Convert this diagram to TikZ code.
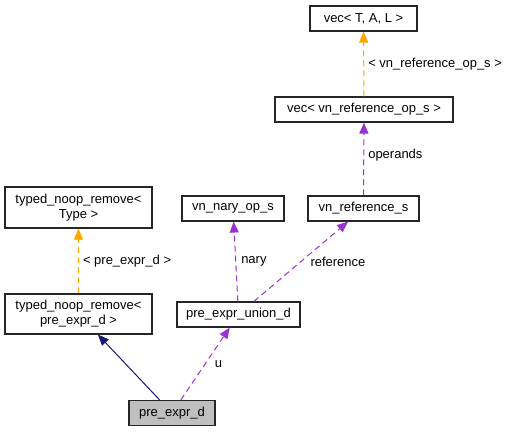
\documentclass[tikz,border=0pt]{standalone}
\usepackage{fontspec}
\setmainfont{Liberation Sans}
\usetikzlibrary{arrows.meta}
\definecolor{inhblue}{HTML}{191970}
\definecolor{usepurple}{HTML}{9A32CD}
\definecolor{tmplorange}{HTML}{FFA500}
\tikzset{
  cls/.style={draw=black!85, line width=1.1pt, inner sep=2pt, minimum height=25pt, align=center, font=\fontsize{13}{15}\selectfont},
  lbl/.style={anchor=west, text=black, font=\fontsize{13}{15}\selectfont, inner sep=1pt},
  tip/.style={-{Triangle[length=11pt,width=9pt]}, line width=1pt},
  usedash/.style={tip, usepurple, dash pattern=on 6pt off 4pt},
  tmpldash/.style={tip, tmplorange, dash pattern=on 6pt off 4pt},
}
\begin{document}
\begin{tikzpicture}[x=1pt,y=-1pt]
\useasboundingbox (0,0) rectangle (508,432);
% classes
\node[cls, minimum width=107pt] (vecTAL) at (363.5,18.5) {vec< T, A, L >};
\node[cls, minimum width=178pt] (vecRef) at (364,109.5) {vec< vn\_reference\_op\_s >};
\node[cls, minimum width=102pt] (naryOp) at (233,208.5) {vn\_nary\_op\_s};
\node[cls, minimum width=111pt] (refS) at (363.5,208.5) {vn\_reference\_s};
\node[cls, minimum width=147pt, minimum height=41pt] (typedType) at (78.5,207.5) {typed\_noop\_remove<\\Type >};
\node[cls, minimum width=147pt, minimum height=40pt] (typedPre) at (78.5,314) {typed\_noop\_remove<\\pre\_expr\_d >};
\node[cls, minimum width=123pt] (unionD) at (238.5,314.5) {pre\_expr\_union\_d};
\node[cls, minimum width=86pt, fill=black!25] (preD) at (172,413) {pre\_expr\_d};
% relations
\draw[tmpldash] (vecRef) -- node[lbl, xshift=3pt] {< vn\_reference\_op\_s >} (vecTAL);
\draw[usedash] (refS) -- node[lbl, xshift=3pt, pos=0.55] {operands} (vecRef);
\draw[usedash] (unionD) -- node[lbl, xshift=4pt] {nary} (naryOp);
\draw[usedash] (unionD) -- node[lbl, xshift=8pt] {reference} (refS);
\draw[tmpldash] (typedPre) -- node[lbl, xshift=3pt] {< pre\_expr\_d >} (typedType);
\draw[tip, inhblue] (preD) -- (typedPre);
\draw[usedash] (preD) -- node[lbl, xshift=8pt] {u} (unionD);
\end{tikzpicture}
\end{document}
